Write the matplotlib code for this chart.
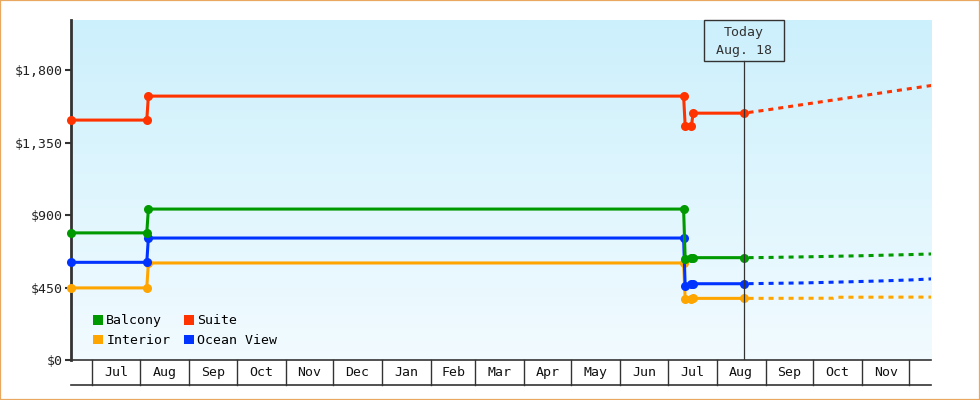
import datetime as dt
import numpy as np
import matplotlib
matplotlib.use("Agg")
import matplotlib.pyplot as plt
import matplotlib.dates as mdates
from matplotlib.patches import Rectangle, Patch
from matplotlib.ticker import FuncFormatter

plt.rcParams['font.family'] = ['DejaVu Sans Mono']
plt.rcParams['lines.scale_dashes'] = False

D = dt.date

# price history (solid lines with markers)
hist_dates = [D(2024, 6, 18), D(2024, 8, 5), D(2024, 8, 6), D(2025, 7, 11),
              D(2025, 7, 12), D(2025, 7, 16), D(2025, 7, 17), D(2025, 8, 18)]
suite = [1491, 1491, 1640, 1640, 1456, 1456, 1534, 1534]
balcony = [790, 790, 938, 938, 629, 636, 636, 636]
ocean_view = [607, 607, 758, 758, 459, 472, 474, 474]
interior = [448, 448, 603, 603, 381, 381, 383, 383]

# forecasts (dashed)
fc_suite_dates = [D(2025, 8, 18), D(2025, 9, 1), D(2025, 10, 1), D(2025, 11, 1), D(2025, 12, 1), D(2025, 12, 15)]
fc_suite = [1534, 1553, 1597, 1642, 1686, 1706]
fc_balcony_dates = fc_suite_dates
fc_balcony = [636, 637, 642, 648, 655, 659]
fc_ocean_dates = [D(2025, 8, 18), D(2025, 9, 25), D(2025, 10, 20), D(2025, 11, 12), D(2025, 12, 3), D(2025, 12, 15)]
fc_ocean = [474, 479, 485, 491, 498, 504]
fc_interior_dates = [D(2025, 8, 18), D(2025, 10, 14), D(2025, 10, 16), D(2025, 12, 15)]
fc_interior = [383, 384, 390, 391]

today = D(2025, 8, 18)
months = [D(2024 + (6 + i) // 12, (6 + i) % 12 + 1, 1) for i in range(18)]  # Jul 2024 .. Dec 2025
yticks = [0, 450, 900, 1350, 1800]

colors = {'Balcony': '#009900', 'Suite': '#FF3300', 'Interior': '#FFA500', 'Ocean View': '#0033FF'}
dark = '#333333'

fig = plt.figure(figsize=(9.8, 4.0), dpi=100)
ax = fig.add_axes([71 / 980, 40 / 400, 860 / 980, 340 / 400])

# gradient background
grad = np.linspace(0, 1, 256).reshape(-1, 1)
top = np.array([0xCC, 0xF0, 0xFC]) / 255
bot = np.array([0xF2, 0xFB, 0xFF]) / 255
img = top * (1 - grad[..., None]) + bot * grad[..., None]
ax.imshow(img, extent=[0, 1, 0, 1], transform=ax.transAxes, aspect='auto', zorder=0)

series = [('Interior', interior, fc_interior_dates, fc_interior),
          ('Ocean View', ocean_view, fc_ocean_dates, fc_ocean),
          ('Balcony', balcony, fc_balcony_dates, fc_balcony),
          ('Suite', suite, fc_suite_dates, fc_suite)]
for name, vals, fd, fv in series:
    c = colors[name]
    ax.plot(fd, fv, color=c, lw=2.2, ls=(3.6, (3.6, 3.6)), zorder=3)
    ax.plot(hist_dates, vals, color=c, lw=2.2, marker='o', ms=6.5, mew=0, zorder=4, clip_on=False)

ax.set_xlim(mdates.date2num(hist_dates[0]), mdates.date2num(fc_suite_dates[-1]) - 0.3)
ax.set_ylim(0, 2113)

# today marker
tx = mdates.date2num(today)
ax.plot([tx, tx], [0, 0.88], color=dark, lw=0.9, transform=ax.get_xaxis_transform(), zorder=5)
half = 40 / 1.578
ax.add_patch(Rectangle((tx - half, 0.88), 2 * half, 0.12, transform=ax.get_xaxis_transform(),
                       facecolor='none', edgecolor=dark, lw=1.0, zorder=6, clip_on=False))
ax.text(tx, (360 - 32.5) / 340, 'Today', transform=ax.get_xaxis_transform(), ha='center', va='center',
        fontsize=9.5, color=dark, zorder=7)
ax.text(tx, (360 - 50.5) / 340, 'Aug. 18', transform=ax.get_xaxis_transform(), ha='center', va='center',
        fontsize=9.5, color=dark, zorder=7)

# month band below the plot
xt = ax.get_xaxis_transform()
band = -25 / 340
for m in months:
    x = mdates.date2num(m)
    ax.plot([x, x], [0, band], color=dark, lw=1.0, transform=xt, clip_on=False)
for a, b in zip(months[:-1], months[1:]):
    mid = (mdates.date2num(a) + mdates.date2num(b)) / 2
    ax.text(mid, band / 2, a.strftime('%b'), transform=xt, ha='center', va='center',
            fontsize=9.5, color='#111111')
ax.plot([0, 1], [band, band], color=dark, lw=1.2, transform=ax.transAxes, clip_on=False)

# axes styling
ax.set_xticks([])
for s in ['top', 'right']:
    ax.spines[s].set_visible(False)
ax.spines['left'].set_color(dark)
ax.spines['left'].set_linewidth(2)
ax.spines['bottom'].set_color(dark)
ax.spines['bottom'].set_linewidth(1.2)
ax.set_yticks(yticks)
ax.yaxis.set_major_formatter(FuncFormatter(lambda v, p: '${:,.0f}'.format(v)))
ax.tick_params(axis='y', length=4.3, width=1.5, color=dark, pad=1.8, labelsize=9.5, labelcolor='#222222')

# legend
order = ['Balcony', 'Interior', 'Suite', 'Ocean View']
handles = [Patch(facecolor=colors[n], edgecolor='none', label=n) for n in order]
ax.legend(handles=handles, ncol=2, loc='lower left', bbox_to_anchor=(22 / 860, 13 / 340),
          frameon=False, fontsize=9.5, handlelength=0.76, handleheight=0.76, handletextpad=0.25,
          columnspacing=1.0, labelspacing=0.5, borderpad=0, borderaxespad=0)

fig.patches.append(Rectangle((0, 0), 1, 1, transform=fig.transFigure, fill=False,
                             edgecolor='#E8A860', lw=1.6))

fig.savefig('out.png', dpi=100)
